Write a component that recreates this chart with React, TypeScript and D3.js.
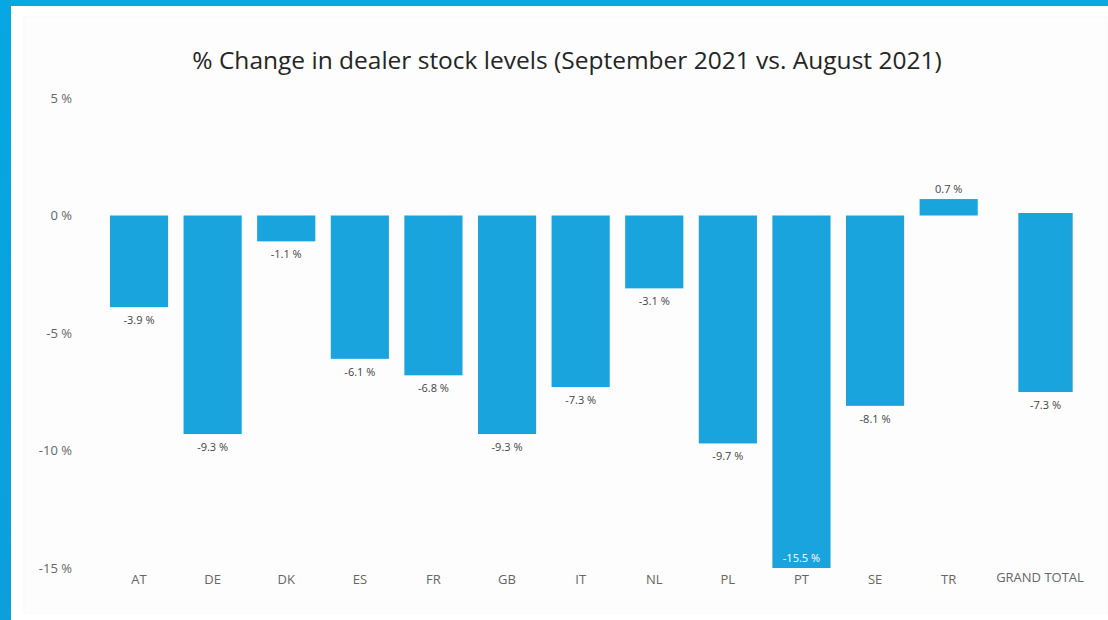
import React, { useEffect, useRef } from 'react';
import * as d3 from 'd3';

const countries = ['AT', 'DE', 'DK', 'ES', 'FR', 'GB', 'IT', 'NL', 'PL', 'PT', 'SE', 'TR'];
const changes = [-3.9, -9.3, -1.1, -6.1, -6.8, -9.3, -7.3, -3.1, -9.7, -15.5, -8.1, 0.7];
const totalLabel = 'GRAND TOTAL';
const totalValue = -7.3;
const yTicks = [5, 0, -5, -10, -15];

const W = 1108;
const H = 620;
const BAR = '#19a4de';
const FONT = "'Open Sans', 'Noto Sans', sans-serif";

const App = () => {
  const ref = useRef<SVGSVGElement | null>(null);

  useEffect(() => {
    const svg = d3.select(ref.current);
    svg.selectAll('*').remove();

    // frame
    const grad = svg.append('defs').append('linearGradient').attr('id', 'frame')
      .attr('x1', 0).attr('y1', 0).attr('x2', 0).attr('y2', 1);
    grad.append('stop').attr('offset', '0%').attr('stop-color', '#06a7e2');
    grad.append('stop').attr('offset', '100%').attr('stop-color', '#0b9fdc');
    svg.append('rect').attr('width', W).attr('height', H).attr('fill', 'url(#frame)');
    svg.append('rect').attr('x', 11).attr('y', 6).attr('width', W - 11).attr('height', H - 6).attr('fill', '#fff');
    svg.append('rect').attr('x', 24).attr('y', 17).attr('width', W - 24).attr('height', H - 24)
      .attr('fill', '#fdfdfd').attr('stroke', '#f8f8f8');

    svg.append('text')
      .attr('x', 567).attr('y', 69)
      .attr('text-anchor', 'middle')
      .attr('font-family', FONT).attr('font-size', 24.5)
      .attr('fill', '#252525')
      .text('% Change in dealer stock levels (September 2021 vs. August 2021)');

    const y = d3.scaleLinear().domain([-15, 5]).range([568, 98]).clamp(true);
    const yTotal = d3.scaleLinear().domain([-15, 5]).range([580.8, 90.4]).clamp(true);

    const x = d3.scaleBand().domain(countries).range([94.5, 993.2]).paddingInner(0.21).paddingOuter(0.21);
    const xTotal = d3.scaleBand().domain([totalLabel]).range([1008, 1083]).padding(0.16);

    // y axis labels
    svg.append('g').selectAll('text').data(yTicks).enter().append('text')
      .attr('x', 72).attr('y', (d) => y(d))
      .attr('dy', '0.35em')
      .attr('text-anchor', 'end')
      .attr('font-family', FONT).attr('font-size', 13).attr('fill', '#666')
      .text((d) => `${d} %`);

    // bars
    svg.append('g').selectAll('rect').data(changes).enter().append('rect')
      .attr('x', (d, i) => x(countries[i]) as number)
      .attr('y', (d) => y(Math.max(0, d)))
      .attr('width', x.bandwidth())
      .attr('height', (d) => Math.abs(y(d) - y(0)))
      .attr('fill', BAR);

    const fmt = (d: number) => `${d.toFixed(1)} %`;

    svg.append('g').selectAll('text').data(changes).enter().append('text')
      .attr('x', (d, i) => (x(countries[i]) as number) + x.bandwidth() / 2)
      .attr('y', (d) => {
        if (d >= 0) return y(d) - 10;
        if (d < -15) return y(d) - 10;
        return y(d) + 13;
      })
      .attr('dy', '0.35em')
      .attr('text-anchor', 'middle')
      .attr('font-family', FONT).attr('font-size', 11)
      .attr('fill', (d) => (d < -15 ? '#fff' : '#444'))
      .text(fmt);

    // grand total bar
    svg.append('rect')
      .attr('x', xTotal(totalLabel) as number)
      .attr('y', yTotal(0))
      .attr('width', xTotal.bandwidth())
      .attr('height', yTotal(totalValue) - yTotal(0))
      .attr('fill', BAR);
    svg.append('text')
      .attr('x', (xTotal(totalLabel) as number) + xTotal.bandwidth() / 2)
      .attr('y', yTotal(totalValue) + 13)
      .attr('dy', '0.35em')
      .attr('text-anchor', 'middle')
      .attr('font-family', FONT).attr('font-size', 11).attr('fill', '#444')
      .text(fmt(totalValue));

    // x labels
    svg.append('g').selectAll('text').data(countries).enter().append('text')
      .attr('x', (d) => (x(d) as number) + x.bandwidth() / 2)
      .attr('y', 579).attr('dy', '0.35em')
      .attr('text-anchor', 'middle')
      .attr('font-family', FONT).attr('font-size', 13).attr('fill', '#666')
      .text((d) => d);
    svg.append('text')
      .attr('x', 1040).attr('y', 577).attr('dy', '0.35em')
      .attr('text-anchor', 'middle')
      .attr('font-family', FONT).attr('font-size', 13).attr('fill', '#666')
      .text(totalLabel);
  }, []);

  return (
    <svg ref={ref} width={W} height={H} style={{ position: 'absolute', left: 0, top: 0 }} />
  );
};

export default App;
